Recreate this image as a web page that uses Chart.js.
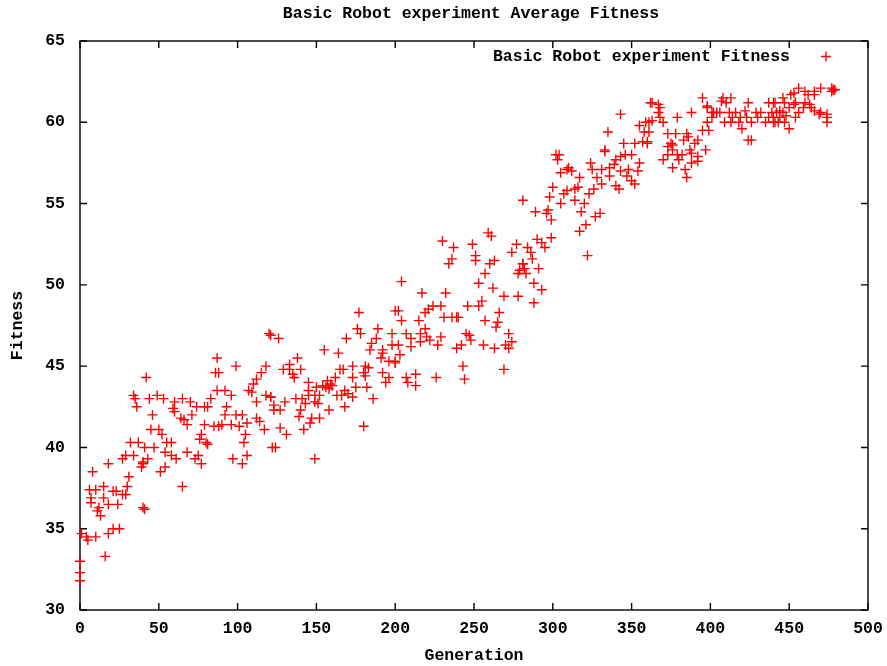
<!DOCTYPE html>
<html>
<head>
<meta charset="utf-8">
<script src="https://cdn.jsdelivr.net/npm/chart.js@4.4.1/dist/chart.umd.min.js"></script>
<style>
  html, body { margin: 0; padding: 0; background: #fff; }
  #wrap { width: 887px; height: 666px; }
</style>
</head>
<body>
<div id="wrap"><canvas id="fitChart" width="887" height="666"></canvas></div>
<script>
const chartTitle = 'Basic Robot experiment Average Fitness';
const seriesName = 'Basic Robot experiment Fitness';
const xTicks = [0, 50, 100, 150, 200, 250, 300, 350, 400, 450, 500];
const yTicks = [30, 35, 40, 45, 50, 55, 60, 65];

// generation of each plotted sample
const generations = [
  0,0,0,1,4,5,6,7,7,8, 10,10,11,12,13,15,15,16,18,18, 18,21,21,23,24,25,27,27,29,29, 30,31,32,34,34,35,36,37,39,40, 40,
  42,44,49,53,60,65,70,74,79,59, 60,46,64,66,71,68,45,50,52,79, 77,76,80,41,47,55,58,54,43,40, 58,61,68,73,75,77,54,51,65,41,
  120,87,99,86,88,118,115,112,110,87, 92,96,107,109,83,81,118,121,112,93, 92,99,103,112,114,117,85,88,90,96, 101,106,105,104,81,106,97,103,122,
  121,126,155,138,133,129,133,140,135,136, 145,157,159,154,145,150,156,158,145,149, 152,121,137,141,130,149,143,151,123,123, 127,140,158,139,147,152,146,127,131,142, 124,149,
  177,200,176,178,169,189,198,188,164,185, 184,192,192,198,191,196,200,165,167,173, 181,183,180,192,196,194,162,173,181,160, 168,175,182,163,166,170,173,186,168,180,
  230,237,236,234,204,217,232,202,204,215, 219,221,224,229,231,236,239,207,210,216, 219,220,222,229,202,210,216,227,239,203, 200,207,213,226,208,213,
  259,261,277,274,249,251,251,260,263,281, 279,278,257,253,262,269,278,246,253,255, 240,266,265,264,257,245,247,248,272,274, 270,272,242,256,263,243,244,269,
  302,304,303,310,309,312,305,317,300,309, 314,316,307,298,314,320,281,305,297,289, 296,318,299,321,317,299,290,293,295,284, 286,287,281,282,283,291,322,288,293,288,
  362,343,359,355,335,358,345,352,357,360, 333,333,340,343,346,350,324,339,355,325, 331,336,343,348,354,328,336,347,350,352, 331,340,342,326,323,330,327,
  363,367,368,395,398,401,367,388,379,368, 370,363,361,398,361,395,360,373,378,385, 386,383,392,390,375,373,376,376,387,388, 397,373,379,382,392,392,370,380,388,376, 384,385,
  408,413,407,410,424,437,441,398,402,406, 412,416,422,429,432,439,401,404,414,419, 423,430,437,440,409,413,418,426,435,441, 399,420,424,426,
  456,470,477,477,466,460,453,451,466,462, 446,440,447,454,460,453,463,450,459,464, 444,466,470,442,446,456,469,474,444,448, 454,474,440,443,447,474,450,479,478
];

// fitness of each sample, same order as generations
const fitness = [
  31.8,32.3,33.0,34.7,34.5,34.3,37.4,36.9,36.6,38.5, 34.5,37.4,36.1,36.3,35.8,37.6,36.9,33.3,39.0,34.7, 36.5,35.0,37.3,37.3,36.5,35.0,37.1,39.3,39.5,37.1, 37.6,38.2,40.3,39.5,43.2,43.0,42.5,40.3,38.8,39.1, 36.3,
  44.3,43.0,43.2,43.0,42.8,43.0,42.8,42.5,42.5,42.4, 42.2,42.0,41.8,41.7,42.0,41.4,41.1,41.1,40.8,41.4, 40.8,40.5,40.3,40.0,40.0,40.3,40.3,39.7,39.3,39.0, 39.5,39.3,39.7,39.3,39.5,39.0,38.8,38.5,37.6,36.2,
  47.0,45.5,45.0,44.6,44.6,45.0,44.6,44.2,43.9,43.5, 43.5,43.2,43.5,43.4,43.0,42.5,43.2,43.1,42.8,42.5, 42.0,42.0,42.0,41.8,41.6,41.1,41.3,41.3,41.4,41.4, 41.3,41.5,40.8,40.3,40.2,39.5,39.3,39.0,40.0,
  46.9,46.7,46.0,45.5,45.1,44.8,44.8,44.8,44.5,44.3, 44.0,44.1,43.9,43.8,43.5,43.7,43.7,43.6,43.2,43.2, 43.2,43.1,43.0,43.0,42.8,42.8,42.7,42.7,42.6,42.3, 42.3,42.3,42.3,41.9,41.8,41.8,41.5,41.2,40.8,41.1, 40.0,39.3,
  48.3,48.4,47.3,47.0,46.7,47.3,47.0,46.7,45.8,46.4, 46.0,46.0,45.8,46.3,45.5,45.3,45.3,44.8,44.8,45.0, 45.0,44.9,44.6,44.6,44.3,44.0,44.3,44.3,44.4,43.8, 43.5,43.7,43.7,43.2,43.2,43.3,43.1,43.0,42.5,41.3,
  52.7,52.3,51.6,51.3,50.2,49.5,49.5,48.4,47.8,47.8, 48.3,48.5,48.7,48.7,48.0,48.0,48.0,47.0,46.7,47.0, 47.3,46.8,46.6,46.8,46.3,46.2,46.5,46.3,46.1,45.7, 45.2,44.3,44.5,44.3,44.0,43.8,
  53.2,53.0,52.5,52.0,52.5,51.8,51.5,51.3,51.5,51.3, 50.9,50.7,50.7,50.1,49.8,49.3,49.3,48.7,48.7,49.0, 48.0,48.3,47.7,47.4,47.8,47.0,46.9,46.6,47.0,46.5, 46.3,46.1,46.3,46.3,46.1,45.0,44.2,44.8,
  58.0,58.0,57.7,57.2,57.1,57.0,56.9,56.6,56.0,55.8, 55.9,56.0,55.6,55.4,55.2,55.0,55.2,55.0,54.6,54.5, 54.4,54.5,54.0,53.7,53.3,52.9,52.8,52.6,52.3,52.3, 52.0,51.6,51.3,51.0,50.7,51.0,51.8,50.1,49.7,48.9,
  61.2,60.5,60.0,59.8,59.4,59.4,58.7,58.7,58.8,58.7, 58.3,58.2,57.7,57.9,58.0,58.0,57.5,57.4,57.5,57.1, 57.1,57.2,57.0,57.1,57.0,56.6,56.7,56.7,56.4,56.2, 56.2,56.1,55.9,55.9,55.6,54.4,54.2,
  61.2,61.1,60.9,61.5,61.0,60.6,60.6,60.6,60.3,60.3, 60.0,60.1,60.0,60.0,59.4,59.5,58.8,59.3,59.3,59.3, 59.1,58.9,58.9,58.7,58.7,58.5,58.6,58.3,58.3,58.1, 58.3,58.0,58.0,58.0,57.9,57.6,57.7,57.7,57.5,57.2, 57.1,56.6,
  61.5,61.5,61.3,61.2,61.2,61.2,61.2,60.9,60.6,60.6, 60.6,60.6,60.7,60.6,60.6,60.6,60.3,60.6,60.3,60.3, 60.3,60.3,60.3,60.3,60.0,60.0,60.0,60.0,60.0,60.0, 59.5,59.6,58.9,58.9,
  62.1,62.1,62.1,61.9,61.9,61.9,61.8,61.7,61.7,61.7, 61.5,61.2,61.2,61.2,61.2,61.1,61.1,60.9,60.9,60.9, 60.7,60.7,60.6,60.6,60.6,60.6,60.5,60.5,60.3,60.4, 60.3,60.3,60.0,60.0,60.0,60.0,59.6,62.0,62.0
];

const FONT = { family: '"Liberation Mono", "DejaVu Sans Mono", monospace', size: 16.5, weight: 'bold' };
const RED = '#ff0000';
const TICK_LEN = 7;
const LINE_W = 1.4;

// gnuplot style frame with inward mirrored ticks, title and in-plot key
const gnuplotLook = {
  id: 'gnuplotLook',
  beforeDatasetsDraw(chart) {
    const { ctx, chartArea: a, scales: { x, y } } = chart;
    ctx.save();
    ctx.strokeStyle = '#000';
    ctx.lineWidth = LINE_W;
    ctx.beginPath();
    xTicks.forEach(v => {
      const px = x.getPixelForValue(v);
      ctx.moveTo(px, a.bottom); ctx.lineTo(px, a.bottom - TICK_LEN);
      ctx.moveTo(px, a.top); ctx.lineTo(px, a.top + TICK_LEN);
    });
    yTicks.forEach(v => {
      const py = y.getPixelForValue(v);
      ctx.moveTo(a.left, py); ctx.lineTo(a.left + TICK_LEN, py);
      ctx.moveTo(a.right, py); ctx.lineTo(a.right - TICK_LEN, py);
    });
    ctx.stroke();
    ctx.strokeRect(a.left, a.top, a.right - a.left, a.bottom - a.top);
    ctx.restore();
  },
  afterDraw(chart) {
    const { ctx, chartArea: a } = chart;
    ctx.save();
    ctx.font = `${FONT.weight} ${FONT.size}px ${FONT.family}`;
    ctx.fillStyle = '#000';
    ctx.textBaseline = 'middle';
    ctx.textAlign = 'center';
    ctx.fillText(chartTitle, (a.left + a.right) / 2 - 3, 14);
    // key
    ctx.textAlign = 'right';
    ctx.fillText(seriesName, a.right - 78, 57);
    ctx.strokeStyle = RED;
    ctx.lineWidth = LINE_W;
    ctx.beginPath();
    const kx = a.right - 42, ky = 56.5;
    ctx.moveTo(kx - 5, ky); ctx.lineTo(kx + 5, ky);
    ctx.moveTo(kx, ky - 5); ctx.lineTo(kx, ky + 5);
    ctx.stroke();
    ctx.restore();
  }
};

window.onload = () => {
  new Chart(document.getElementById('fitChart').getContext('2d'), {
    type: 'scatter',
    data: {
      datasets: [{
        label: seriesName,
        data: generations.map((g, i) => ({ x: g, y: fitness[i] })),
        pointStyle: 'cross',
        pointRadius: 5,
        pointBorderWidth: LINE_W,
        pointBorderColor: RED,
        pointBackgroundColor: RED,
        borderColor: RED,
        backgroundColor: RED,
        clip: false
      }]
    },
    options: {
      responsive: false,
      animation: false,
      devicePixelRatio: 1,
      events: [],
      layout: { padding: { top: 41, right: 19, left: 0, bottom: 0 } },
      plugins: {
        legend: { display: false },
        title: { display: false },
        tooltip: { enabled: false }
      },
      scales: {
        x: {
          type: 'linear',
          min: 0, max: 500,
          grid: { display: false, drawTicks: false },
          border: { display: false },
          ticks: { stepSize: 50, color: '#000', font: FONT, padding: 9, maxRotation: 0 },
          title: { display: true, text: 'Generation', color: '#000', font: FONT, padding: { top: 0, bottom: 0 } },
          afterFit: s => { s.height = 56; s.paddingLeft = 0; s.paddingRight = 0; }
        },
        y: {
          type: 'linear',
          min: 30, max: 65,
          grid: { display: false, drawTicks: false },
          border: { display: false },
          ticks: { stepSize: 5, color: '#000', font: FONT, padding: 15 },
          title: { display: true, text: 'Fitness', color: '#000', font: FONT, padding: { top: 8, bottom: 0 } },
          afterFit: s => { s.width = 80; s.paddingTop = 0; s.paddingBottom = 0; }
        }
      }
    },
    plugins: [gnuplotLook]
  });
};
</script>
</body>
</html>
